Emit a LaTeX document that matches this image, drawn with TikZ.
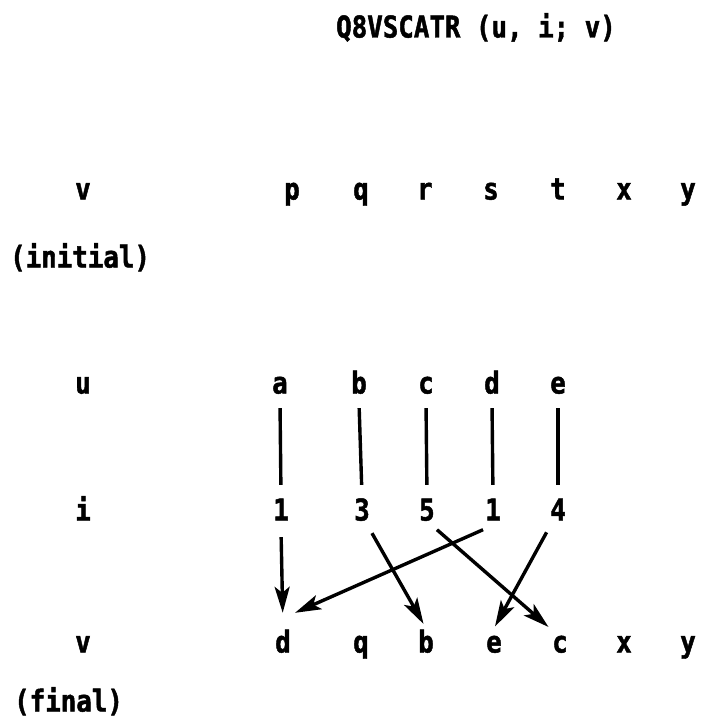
\documentclass[tikz,border=0pt]{standalone}
\usepackage{fontspec}
\newfontfamily\typefont{DejaVu Sans Mono}[FakeStretch=0.86, BoldFeatures={FakeBold=1.5}]
\usepackage{tikz}
\usetikzlibrary{arrows.meta, positioning}
\tikzset{
  sym/.style={font=\typefont\bfseries\fontsize{30}{34}\selectfont,
              inner sep=2pt, text height=22pt, text depth=7pt},
  rowname/.style={sym},
  note/.style={sym, anchor=west},
  link/.style={line width=3.4pt, draw=black},
  move/.style={link, -{Stealth[length=26pt, width=15pt, inset=6pt]}},
}
\begin{document}
\begin{tikzpicture}[x=1pt, y=-1pt]
  \useasboundingbox (0,0) rectangle (701,725);
  \node[sym] (title) at (476,30) {Q8VSCATR (u, i; v)};

  \node[rowname] (vtop) at (83,192) {v};
  \node[sym] (vp) at (292,192) {p};
  \node[sym] (vq) at (361,192) {q};
  \node[sym] (vr) at (425,192) {r};
  \node[sym] (vs) at (491,192) {s};
  \node[sym] (vt) at (558,192) {t};
  \node[sym] (vx) at (624,192) {x};
  \node[sym] (vy) at (688,192) {y};
  \node[note] (initial) at (8,260) {(initial)};

  \node[rowname] (urow) at (83,386) {u};
  \node[sym] (ua) at (280,386) {a};
  \node[sym] (ub) at (359,386) {b};
  \node[sym] (uc) at (426,386) {c};
  \node[sym] (ud) at (492,386) {d};
  \node[sym] (ue) at (558,386) {e};

  \node[rowname] (irow) at (83,513) {i};
  \node[sym] (ia) at (281,513) {1};
  \node[sym] (ib) at (362,513) {3};
  \node[sym] (ic) at (427,513) {5};
  \node[sym] (id) at (493,513) {1};
  \node[sym] (ie) at (558,513) {4};

  \node[rowname] (vbot) at (83,645) {v};
  \node[sym] (wd) at (283,645) {d};
  \node[sym] (wq) at (361,645) {q};
  \node[sym] (wb) at (426,645) {b};
  \node[sym] (we) at (494,645) {e};
  \node[sym] (wc) at (560,645) {c};
  \node[sym] (wx) at (624,645) {x};
  \node[sym] (wy) at (688,645) {y};
  \node[note] (final) at (12,704) {(final)};

  \draw[link, shorten <=5.5pt, shorten >=11.5pt] (ua.south) -- (ia.north);
  \draw[link, shorten <=5.5pt, shorten >=11.5pt] (ub.south) -- (ib.north);
  \draw[link, shorten <=5.5pt, shorten >=11.5pt] (uc.south) -- (ic.north);
  \draw[link, shorten <=5.5pt, shorten >=11.5pt] (ud.south) -- (id.north);
  \draw[link, shorten <=5.5pt, shorten >=11.5pt] (ue.south) -- (ie.north);

  \draw[move, shorten <=7.5pt, shorten >=15.5pt] (ia.south) -- (wd.north);
  \draw[move] (id.south west) -- ([xshift=12pt, yshift=15.5pt]wd.north);
  \draw[move, shorten <=4pt, shorten >=5pt] ([xshift=8pt]ib.south) -- (wb.north);
  \draw[move, shorten >=2pt] (ic.south east) -- (wc.north west);
  \draw[move, shorten <=3pt, shorten >=2pt] (ie.south west) -- (we.north);
\end{tikzpicture}
\end{document}
